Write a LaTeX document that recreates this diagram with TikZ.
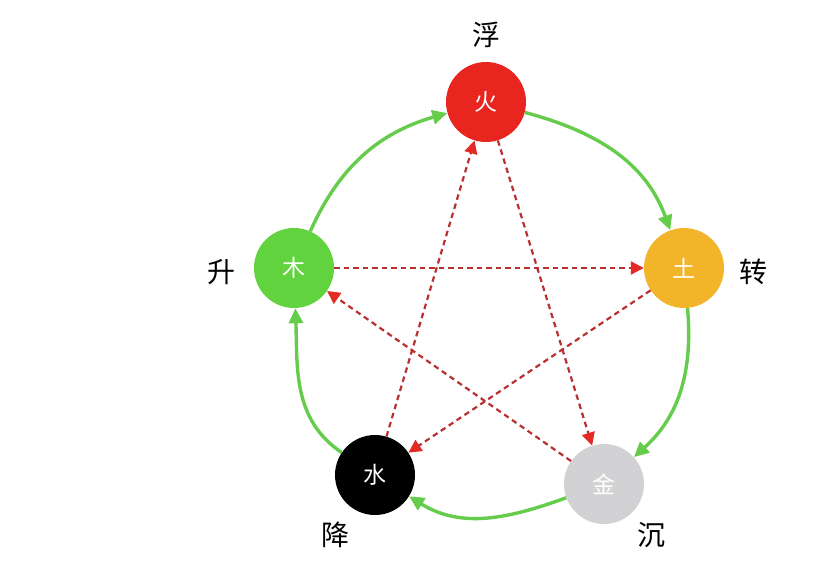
\documentclass[tikz,border=0pt]{standalone}
\usepackage{fontspec}
\setmainfont{Noto Sans CJK SC}
\usetikzlibrary{arrows.meta}
\definecolor{firec}{HTML}{E8261F}
\definecolor{earthc}{HTML}{F2B52A}
\definecolor{metalc}{HTML}{D2D2D4}
\definecolor{woodc}{HTML}{60D33F}
\definecolor{greenarr}{HTML}{66CC4C}
\definecolor{dashc}{HTML}{B9302F}
\definecolor{dashtip}{HTML}{E42A24}
\tikzset{
  elem/.style={circle, minimum size=80pt, inner sep=0pt, text=white, font=\fontsize{23}{23}\selectfont},
  lbl/.style={text=black, font=\fontsize{28}{28}\selectfont, inner sep=0pt},
  cyc/.style={draw=greenarr, line width=3.4pt, -{Triangle[length=15pt,width=14pt]}},
  ctl/.style={draw=dashc, line width=2.2pt, dash pattern=on 5.5pt off 4pt, -{Triangle[length=13pt,width=13pt,color=dashtip]}}
}
\begin{document}
\begin{tikzpicture}[x=1pt,y=-1pt]
\useasboundingbox (0,0) rectangle (838,570);
\node[elem, fill=firec] (huo) at (486,102) {火};
\node[elem, fill=earthc] (tu) at (684,268) {土};
\node[elem, fill=metalc] (jin) at (604,484) {金};
\node[elem, fill=black] (shui) at (375,475) {水};
\node[elem, fill=woodc] (mu) at (294,268) {木};
\node[lbl] (fu) at (486,35) {浮};
\node[lbl] (zhuan) at (753,272) {转};
\node[lbl] (chen) at (651,535) {沉};
\node[lbl] (jiang) at (335,535) {降};
\node[lbl] (sheng) at (221,272) {升};
\draw[cyc] (huo) to[out=-15, in=110] (tu);
\draw[cyc] (tu) to[out=-85, in=42] (jin);
\draw[cyc] (jin) to[out=200, in=-32] (shui);
\draw[cyc] (shui) to[out=146, in=-88] (mu);
\draw[cyc] (mu) to[out=66, in=196] (huo);
\draw[ctl] (mu) -- (tu);
\draw[ctl] (tu) -- (shui);
\draw[ctl] (shui) -- (huo);
\draw[ctl] (huo) -- (jin);
\draw[ctl] (jin) -- (mu);
\end{tikzpicture}
\end{document}
